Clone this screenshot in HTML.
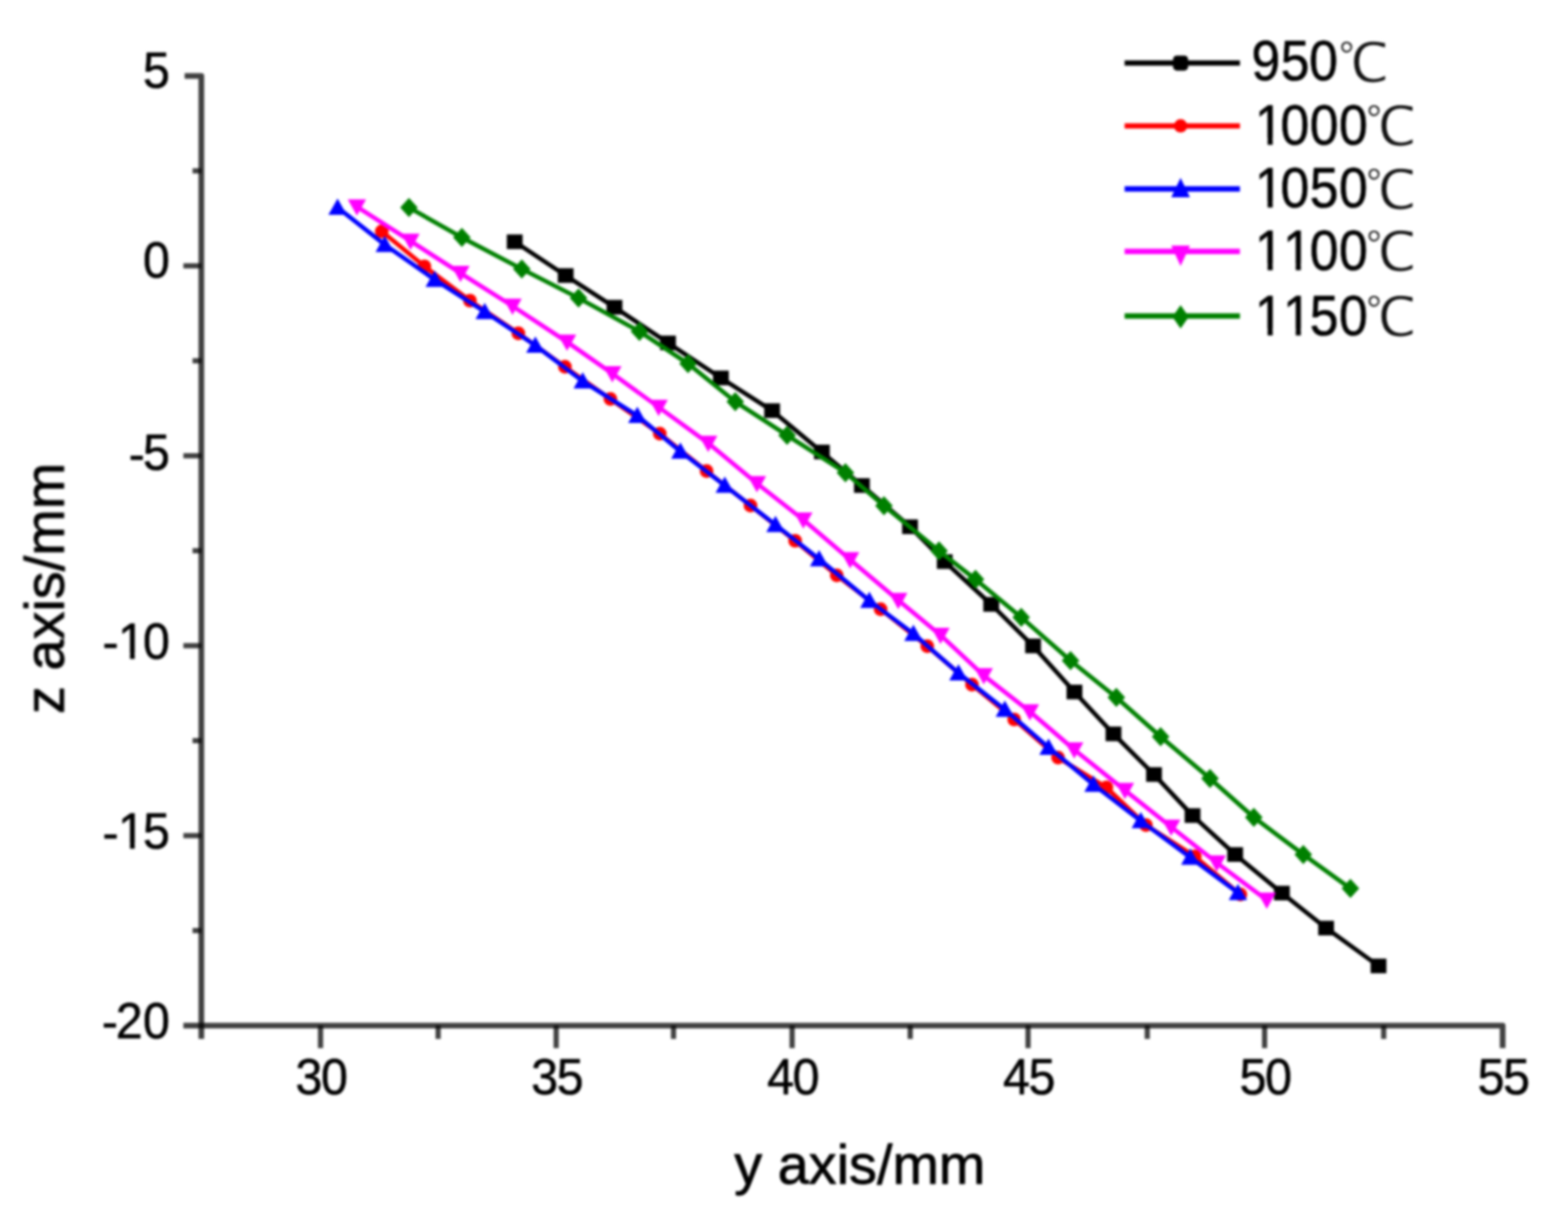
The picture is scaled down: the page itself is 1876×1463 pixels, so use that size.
<!DOCTYPE html>
<html lang="en"><head><meta charset="utf-8"><title>z axis vs y axis</title>
<style>
html,body{margin:0;padding:0;background:#fff;}
body{width:1876px;height:1463px;overflow:hidden;}
svg{display:block;}
text{font-family:"Liberation Sans","Noto Sans CJK SC",sans-serif;fill:#000;stroke:#000;stroke-width:0.6px;stroke-linejoin:round;}
.tt{stroke-width:0.9px;}
.dc{font-family:"WenQuanYi Zen Hei","Noto Sans CJK SC","Liberation Sans",sans-serif;fill:#111;stroke:#fff;stroke-width:1px;}
</style></head><body>
<svg width="1876" height="1463" viewBox="0 0 1876 1463">
<defs>
<filter id="bl" x="-5%" y="-5%" width="110%" height="110%" color-interpolation-filters="sRGB"><feGaussianBlur stdDeviation="1.7"/></filter>
<filter id="tb" x="-5%" y="-5%" width="110%" height="110%" color-interpolation-filters="sRGB"><feGaussianBlur stdDeviation="1.5"/></filter>
</defs>
<rect width="1876" height="1463" fill="#fff"/>
<g filter="url(#bl)">
<g stroke="#000" stroke-opacity="0.75" stroke-width="6.8" fill="none" stroke-linecap="butt" stroke-linejoin="round">
<polyline points="220.9,90.8 240.9,90.8 240.9,1242.8"/>
<polyline points="219.4,1226.8 1797.8,1226.8 1797.8,1253.8"/>
</g>
<g stroke="#000" stroke-opacity="0.75" stroke-width="6.2" fill="none">
<line x1="230.4" y1="204.4" x2="240.9" y2="204.4"/>
<line x1="219.4" y1="318" x2="240.9" y2="318"/>
<line x1="230.4" y1="431.6" x2="240.9" y2="431.6"/>
<line x1="219.4" y1="545.2" x2="240.9" y2="545.2"/>
<line x1="230.4" y1="658.8" x2="240.9" y2="658.8"/>
<line x1="219.4" y1="772.4" x2="240.9" y2="772.4"/>
<line x1="230.4" y1="886" x2="240.9" y2="886"/>
<line x1="219.4" y1="999.6" x2="240.9" y2="999.6"/>
<line x1="230.4" y1="1113.2" x2="240.9" y2="1113.2"/>
<line x1="383.5" y1="1226.8" x2="383.5" y2="1253.8"/>
<line x1="524.2" y1="1226.8" x2="524.2" y2="1242.8"/>
<line x1="665.4" y1="1226.8" x2="665.4" y2="1253.8"/>
<line x1="805.8" y1="1226.8" x2="805.8" y2="1242.8"/>
<line x1="947.7" y1="1226.8" x2="947.7" y2="1253.8"/>
<line x1="1089" y1="1226.8" x2="1089" y2="1242.8"/>
<line x1="1230" y1="1226.8" x2="1230" y2="1253.8"/>
<line x1="1372.6" y1="1226.8" x2="1372.6" y2="1242.8"/>
<line x1="1513" y1="1226.8" x2="1513" y2="1253.8"/>
<line x1="1655.5" y1="1226.8" x2="1655.5" y2="1242.8"/>
</g>
<g fill="#000000" stroke="none">
<polyline fill="none" stroke="#000000" stroke-width="5.2" stroke-linejoin="round" points="615.8,289.2 676.8,329.6 735.2,367.5 799.2,410.2 862.5,452.1 923.8,491.2 983.3,540.7 1031.2,580.8 1088.8,630.1 1130.3,671.8 1185.9,723 1236,772.7 1285.5,827.8 1332.2,877.9 1380.7,926.5 1426.8,975.6 1477.8,1022.2 1533.7,1068.3 1586.6,1110.2 1649.3,1155.5"/>
<rect x="606.35" y="280.45" width="18.9" height="17.5"/><rect x="667.35" y="320.85" width="18.9" height="17.5"/><rect x="725.75" y="358.75" width="18.9" height="17.5"/><rect x="789.75" y="401.45" width="18.9" height="17.5"/><rect x="853.05" y="443.35" width="18.9" height="17.5"/><rect x="914.35" y="482.45" width="18.9" height="17.5"/><rect x="973.85" y="531.95" width="18.9" height="17.5"/><rect x="1021.75" y="572.05" width="18.9" height="17.5"/><rect x="1079.35" y="621.35" width="18.9" height="17.5"/><rect x="1120.85" y="663.05" width="18.9" height="17.5"/><rect x="1176.45" y="714.25" width="18.9" height="17.5"/><rect x="1226.55" y="763.95" width="18.9" height="17.5"/><rect x="1276.05" y="819.05" width="18.9" height="17.5"/><rect x="1322.75" y="869.15" width="18.9" height="17.5"/><rect x="1371.25" y="917.75" width="18.9" height="17.5"/><rect x="1417.35" y="966.85" width="18.9" height="17.5"/><rect x="1468.35" y="1013.45" width="18.9" height="17.5"/><rect x="1524.25" y="1059.55" width="18.9" height="17.5"/><rect x="1577.15" y="1101.45" width="18.9" height="17.5"/><rect x="1639.85" y="1146.75" width="18.9" height="17.5"/>
</g>
<g fill="#ff0000" stroke="none">
<polyline fill="none" stroke="#ff0000" stroke-width="5.2" stroke-linejoin="round" points="456.8,276.8 507.8,318.6 562.3,359.6 620.2,398.7 675.9,438.8 730.3,477.3 789.4,518.8 845.4,563.5 897.9,604.7 951.3,646.9 1001.1,688.2 1053.6,728.7 1109.4,773 1162.9,819 1213.4,860.6 1265.9,906.2 1323.7,942 1371,987 1429.5,1024.5 1484,1070"/>
<circle cx="456.8" cy="276.8" r="8.2"/><circle cx="507.8" cy="318.6" r="8.2"/><circle cx="562.3" cy="359.6" r="8.2"/><circle cx="620.2" cy="398.7" r="8.2"/><circle cx="675.9" cy="438.8" r="8.2"/><circle cx="730.3" cy="477.3" r="8.2"/><circle cx="789.4" cy="518.8" r="8.2"/><circle cx="845.4" cy="563.5" r="8.2"/><circle cx="897.9" cy="604.7" r="8.2"/><circle cx="951.3" cy="646.9" r="8.2"/><circle cx="1001.1" cy="688.2" r="8.2"/><circle cx="1053.6" cy="728.7" r="8.2"/><circle cx="1109.4" cy="773" r="8.2"/><circle cx="1162.9" cy="819" r="8.2"/><circle cx="1213.4" cy="860.6" r="8.2"/><circle cx="1265.9" cy="906.2" r="8.2"/><circle cx="1323.7" cy="942" r="8.2"/><circle cx="1371" cy="987" r="8.2"/><circle cx="1429.5" cy="1024.5" r="8.2"/><circle cx="1484" cy="1070" r="8.2"/>
</g>
<g fill="#0000ff" stroke="none">
<polyline fill="none" stroke="#0000ff" stroke-width="5.2" stroke-linejoin="round" points="403.9,248.2 460.3,292.6 520.1,334.5 579.9,372.9 640.5,413.1 697.2,456 762.5,497.3 814,539.9 867.1,580.8 927.8,627.8 980,668.8 1040.1,718.5 1092.8,758 1146.7,805.1 1202.2,848.7 1254.5,894.1 1308.3,938.5 1364.9,982 1424.1,1025.6 1481.1,1067.9"/>
<polygon points="403.9,237.47 414.9,256.97 392.9,256.97"/><polygon points="460.3,281.88 471.3,301.38 449.3,301.38"/><polygon points="520.1,323.77 531.1,343.27 509.1,343.27"/><polygon points="579.9,362.17 590.9,381.67 568.9,381.67"/><polygon points="640.5,402.38 651.5,421.88 629.5,421.88"/><polygon points="697.2,445.27 708.2,464.77 686.2,464.77"/><polygon points="762.5,486.57 773.5,506.07 751.5,506.07"/><polygon points="814,529.17 825,548.67 803,548.67"/><polygon points="867.1,570.07 878.1,589.57 856.1,589.57"/><polygon points="927.8,617.07 938.8,636.57 916.8,636.57"/><polygon points="980,658.07 991,677.57 969,677.57"/><polygon points="1040.1,707.77 1051.1,727.27 1029.1,727.27"/><polygon points="1092.8,747.27 1103.8,766.77 1081.8,766.77"/><polygon points="1146.7,794.38 1157.7,813.88 1135.7,813.88"/><polygon points="1202.2,837.98 1213.2,857.48 1191.2,857.48"/><polygon points="1254.5,883.38 1265.5,902.88 1243.5,902.88"/><polygon points="1308.3,927.77 1319.3,947.27 1297.3,947.27"/><polygon points="1364.9,971.27 1375.9,990.77 1353.9,990.77"/><polygon points="1424.1,1014.87 1435.1,1034.38 1413.1,1034.38"/><polygon points="1481.1,1057.18 1492.1,1076.68 1470.1,1076.68"/>
</g>
<g fill="#ff00ff" stroke="none">
<polyline fill="none" stroke="#ff00ff" stroke-width="5.2" stroke-linejoin="round" points="427,247.3 491.1,288.3 550.9,326.8 613.2,366.1 678.4,409 732.6,446.9 788,487 847.3,530.1 905.6,578.2 961.1,621.8 1017.1,669.4 1074.7,718.1 1125.2,759.7 1177,808.1 1232.2,851.2 1285.2,896.7 1345.9,945.4 1401.2,989.3 1455.7,1032 1515.6,1076.6"/>
<polygon points="427,258.03 438,238.53 416,238.53"/><polygon points="491.1,299.03 502.1,279.53 480.1,279.53"/><polygon points="550.9,337.53 561.9,318.03 539.9,318.03"/><polygon points="613.2,376.83 624.2,357.33 602.2,357.33"/><polygon points="678.4,419.73 689.4,400.23 667.4,400.23"/><polygon points="732.6,457.62 743.6,438.12 721.6,438.12"/><polygon points="788,497.73 799,478.23 777,478.23"/><polygon points="847.3,540.83 858.3,521.33 836.3,521.33"/><polygon points="905.6,588.93 916.6,569.43 894.6,569.43"/><polygon points="961.1,632.52 972.1,613.02 950.1,613.02"/><polygon points="1017.1,680.12 1028.1,660.62 1006.1,660.62"/><polygon points="1074.7,728.83 1085.7,709.33 1063.7,709.33"/><polygon points="1125.2,770.43 1136.2,750.93 1114.2,750.93"/><polygon points="1177,818.83 1188,799.33 1166,799.33"/><polygon points="1232.2,861.93 1243.2,842.43 1221.2,842.43"/><polygon points="1285.2,907.43 1296.2,887.93 1274.2,887.93"/><polygon points="1345.9,956.12 1356.9,936.62 1334.9,936.62"/><polygon points="1401.2,1000.02 1412.2,980.52 1390.2,980.52"/><polygon points="1455.7,1042.72 1466.7,1023.23 1444.7,1023.23"/><polygon points="1515.6,1087.32 1526.6,1067.82 1504.6,1067.82"/>
</g>
<g fill="#008000" stroke="none">
<polyline fill="none" stroke="#008000" stroke-width="5.2" stroke-linejoin="round" points="489.3,248.2 552.6,284.1 624.3,321.7 692.2,356.5 765.1,396.5 823.2,435 879.7,480.5 941.7,520.7 1011.5,565.4 1057.6,605 1123.5,658.9 1167.1,693.1 1221.8,738.4 1280.8,790.2 1335.6,834.3 1388.6,881.3 1447.7,931.2 1500.1,977.7 1559.3,1022.2 1615.7,1062.8"/>
<polygon points="489.3,236.7 499.8,248.2 489.3,259.7 478.8,248.2"/><polygon points="552.6,272.6 563.1,284.1 552.6,295.6 542.1,284.1"/><polygon points="624.3,310.2 634.8,321.7 624.3,333.2 613.8,321.7"/><polygon points="692.2,345 702.7,356.5 692.2,368 681.7,356.5"/><polygon points="765.1,385 775.6,396.5 765.1,408 754.6,396.5"/><polygon points="823.2,423.5 833.7,435 823.2,446.5 812.7,435"/><polygon points="879.7,469 890.2,480.5 879.7,492 869.2,480.5"/><polygon points="941.7,509.2 952.2,520.7 941.7,532.2 931.2,520.7"/><polygon points="1011.5,553.9 1022,565.4 1011.5,576.9 1001,565.4"/><polygon points="1057.6,593.5 1068.1,605 1057.6,616.5 1047.1,605"/><polygon points="1123.5,647.4 1134,658.9 1123.5,670.4 1113,658.9"/><polygon points="1167.1,681.6 1177.6,693.1 1167.1,704.6 1156.6,693.1"/><polygon points="1221.8,726.9 1232.3,738.4 1221.8,749.9 1211.3,738.4"/><polygon points="1280.8,778.7 1291.3,790.2 1280.8,801.7 1270.3,790.2"/><polygon points="1335.6,822.8 1346.1,834.3 1335.6,845.8 1325.1,834.3"/><polygon points="1388.6,869.8 1399.1,881.3 1388.6,892.8 1378.1,881.3"/><polygon points="1447.7,919.7 1458.2,931.2 1447.7,942.7 1437.2,931.2"/><polygon points="1500.1,966.2 1510.6,977.7 1500.1,989.2 1489.6,977.7"/><polygon points="1559.3,1010.7 1569.8,1022.2 1559.3,1033.7 1548.8,1022.2"/><polygon points="1615.7,1051.3 1626.2,1062.8 1615.7,1074.3 1605.2,1062.8"/>
</g>
<g fill="#000000">
<line x1="1345.5" y1="75.4" x2="1483.5" y2="75.4" stroke="#000000" stroke-width="6.4"/>
<rect x="1403.5" y="66.4" width="18" height="18" rx="4.5"/>
</g>
<g fill="#ff0000">
<line x1="1345.5" y1="150.6" x2="1483.5" y2="150.6" stroke="#ff0000" stroke-width="6.4"/>
<circle cx="1412.5" cy="150.6" r="8"/>
</g>
<g fill="#0000ff">
<line x1="1345.5" y1="226" x2="1483.5" y2="226" stroke="#0000ff" stroke-width="6.4"/>
<polygon points="1412.5,212.8 1423.7,236 1401.3,236"/>
</g>
<g fill="#ff00ff">
<line x1="1345.5" y1="300.8" x2="1483.5" y2="300.8" stroke="#ff00ff" stroke-width="6.4"/>
<polygon points="1412.5,318.3 1423.7,293.8 1401.3,293.8"/>
</g>
<g fill="#008000">
<line x1="1345.5" y1="378" x2="1483.5" y2="378" stroke="#008000" stroke-width="6.4"/>
<polygon points="1412.5,365 1422.3,379 1412.5,393 1402.7,379"/>
</g>
</g>
<g filter="url(#tb)">
<text class="tk" transform="translate(0 104.6) scale(1 1.04)" x="170.9" y="0" font-size="58">5</text>
<text class="tk" transform="translate(0 332.4) scale(1 1.04)" x="170.9" y="0" font-size="58">0</text>
<text class="tk" transform="translate(0 562) scale(1 1.04)" x="154 170.9" y="1.54 0" font-size="58">-5</text>
<text class="tk" transform="translate(0 787.8) scale(1 1.04)" x="122.5 141.2 170.9" y="1.54 0 0" font-size="58">-10</text>
<text class="tk" transform="translate(0 1015.4) scale(1 1.04)" x="122.5 141.2 170.9" y="1.54 0 0" font-size="58">-15</text>
<text class="tk" transform="translate(0 1241.6) scale(1 1.04)" x="121.7 138.4 170.9" y="1.54 0 0" font-size="58">-20</text>
<text class="tk" transform="translate(0 1309.3) scale(1 1.04)" x="353.54 384" y="0 0" font-size="58">30</text>
<text class="tk" transform="translate(0 1309.3) scale(1 1.04)" x="635.44 665.9" y="0 0" font-size="58">35</text>
<text class="tk" transform="translate(0 1309.3) scale(1 1.04)" x="917.74 948.2" y="0 0" font-size="58">40</text>
<text class="tk" transform="translate(0 1309.3) scale(1 1.04)" x="1200.04 1230.5" y="0 0" font-size="58">45</text>
<text class="tk" transform="translate(0 1309.3) scale(1 1.04)" x="1483.04 1513.5" y="0 0" font-size="58">50</text>
<text class="tk" transform="translate(0 1309.3) scale(1 1.04)" x="1767.84 1798.3" y="0 0" font-size="58">55</text>
<text class="tt" transform="translate(1028.7 1415.6) scale(1.012 1.02)" text-anchor="middle" font-size="66">y axis/mm</text>
<text class="tt" transform="translate(76.5 703.8) rotate(-90) scale(1.012 1.02)" text-anchor="middle" font-size="66">z axis/mm</text>
<text class="lg" transform="translate(0 96) scale(1 1.1)" x="1497.2 1532.2 1566.3" y="0" font-size="62">950<tspan class="dc" x="1600.9" dy="1.5" font-size="59.9" textLength="60.4" lengthAdjust="spacingAndGlyphs">℃</tspan></text>
<text class="lg" transform="translate(0 172.6) scale(1 1.1)" x="1501.3 1532 1567 1601.9" y="0" font-size="62">1000<tspan class="dc" x="1633.8" dy="1.5" font-size="59.9" textLength="60.4" lengthAdjust="spacingAndGlyphs">℃</tspan></text>
<text class="lg" transform="translate(0 248.1) scale(1 1.1)" x="1501.3 1532 1567 1601.9" y="0" font-size="62">1050<tspan class="dc" x="1633.8" dy="1.5" font-size="59.9" textLength="60.4" lengthAdjust="spacingAndGlyphs">℃</tspan></text>
<text class="lg" transform="translate(0 322.8) scale(1 1.1)" x="1501.3 1535 1567 1601.9" y="0" font-size="62">1100<tspan class="dc" x="1633.8" dy="1.5" font-size="59.9" textLength="60.4" lengthAdjust="spacingAndGlyphs">℃</tspan></text>
<text class="lg" transform="translate(0 400.6) scale(1 1.1)" x="1501.3 1535 1567 1601.9" y="0" font-size="62">1150<tspan class="dc" x="1633.8" dy="1.5" font-size="59.9" textLength="60.4" lengthAdjust="spacingAndGlyphs">℃</tspan></text>
<g fill="#fff" stroke="none"><rect x="144.1" y="781.09" width="11.39" height="8.51"/><rect x="161.21" y="781.09" width="11.02" height="8.51"/><rect x="144.1" y="1008.69" width="11.39" height="8.51"/><rect x="161.21" y="1008.69" width="11.02" height="8.51"/><rect x="1504.4" y="165.31" width="12.19" height="9.09"/><rect x="1522.67" y="165.31" width="11.8" height="9.09"/><rect x="1504.4" y="240.81" width="12.19" height="9.09"/><rect x="1522.67" y="240.81" width="11.8" height="9.09"/><rect x="1504.4" y="315.51" width="12.19" height="9.09"/><rect x="1522.67" y="315.51" width="11.8" height="9.09"/><rect x="1538.1" y="315.51" width="12.19" height="9.09"/><rect x="1556.37" y="315.51" width="11.8" height="9.09"/><rect x="1504.4" y="393.31" width="12.19" height="9.09"/><rect x="1522.67" y="393.31" width="11.8" height="9.09"/><rect x="1538.1" y="393.31" width="12.19" height="9.09"/><rect x="1556.37" y="393.31" width="11.8" height="9.09"/></g>
</g>
</svg>
</body></html>
